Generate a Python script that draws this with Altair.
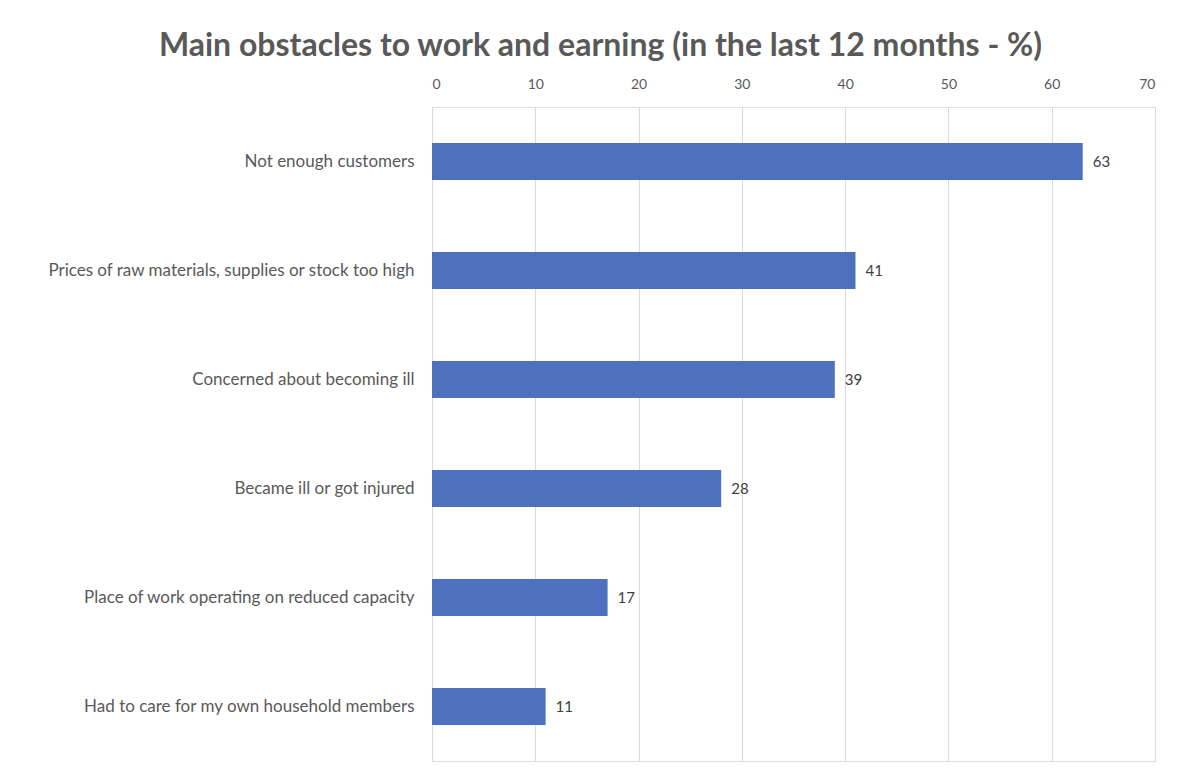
import altair as alt
import pandas as pd

categories = [
    "Not enough customers",
    "Prices of raw materials, supplies or stock too high",
    "Concerned about becoming ill",
    "Became ill or got injured",
    "Place of work operating on reduced capacity",
    "Had to care for my own household members",
]
values = [63, 41, 39, 28, 17, 11]
ticks = [0, 10, 20, 30, 40, 50, 60, 70]

df = pd.DataFrame({"category": categories, "value": values})

FONT = "Lato"

x = alt.X(
    "value:Q",
    scale=alt.Scale(domain=[0, 70], nice=False),
    axis=alt.Axis(
        orient="top", values=ticks, title=None, domain=False, ticks=False,
        labelPadding=16, labelFontSize=14, labelColor="#595959", labelFont=FONT,
        grid=True, gridColor="#d9d9d9", gridWidth=1,
    ),
)
y = alt.Y(
    "category:N",
    sort=categories,
    scale=alt.Scale(paddingInner=0.66, paddingOuter=0.33),
    axis=alt.Axis(
        title=None, domain=False, ticks=False, labelPadding=18,
        labelFontSize=17, labelColor="#595959", labelFont=FONT, labelLimit=500,
    ),
)

bars = alt.Chart(df).mark_bar(color="#4E71BE").encode(x=x, y=y)
labels = alt.Chart(df).mark_text(
    align="left", baseline="middle", dx=10, fontSize=15, color="#404040", font=FONT
).encode(x="value:Q", y=alt.Y("category:N", sort=categories), text="value:Q")

chart = (
    alt.layer(bars, labels)
    .properties(
        width=723,
        height=654,
        autosize=alt.AutoSizeParams(type="none"),
        padding={"left": 424, "top": 99, "right": 15, "bottom": 10},
        title=alt.TitleParams(
            "Main obstacles to work and earning (in the last 12 months - %)",
            fontSize=32, font=FONT, fontWeight="bold", color="#595959",
            anchor="middle", frame="group", dx=-193, offset=14,
        ),
    )
    .configure_view(strokeWidth=0, strokeOpacity=0)
    .configure(background="white")
)

chart.save("out.html", embed_options={"renderer": "svg", "actions": False})
